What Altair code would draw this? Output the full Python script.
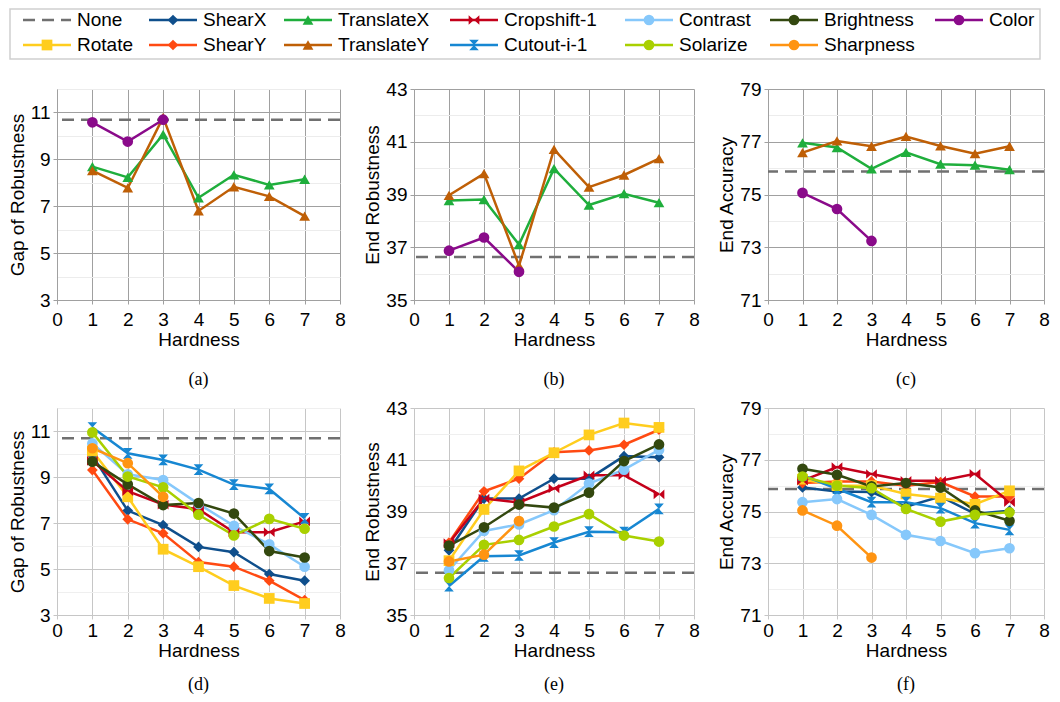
import altair as alt
import pandas as pd

# ---------------- data ----------------
HARDNESS = [1, 2, 3, 4, 5, 6, 7]

SERIES = ["None", "ShearX", "TranslateX", "Cropshift-1", "Contrast", "Brightness", "Color",
          "Rotate", "ShearY", "TranslateY", "Cutout-i-1", "Solarize", "Sharpness"]

# panel (a) Gap of Robustness
a_translatex = [8.69, 8.23, 10.06, 7.36, 8.34, 7.91, 8.15]
a_translatey = [8.52, 7.78, 10.79, 6.80, 7.83, 7.42, 6.58]
a_color = [10.58, 9.76, 10.69]
# panel (b) End Robustness
b_translatex = [38.77, 38.81, 37.10, 39.98, 38.60, 39.03, 38.69]
b_translatey = [38.97, 39.79, 36.30, 40.71, 39.28, 39.74, 40.36]
b_color = [36.87, 37.37, 36.07]
# panel (c) End Accuracy
c_translatex = [76.96, 76.78, 75.97, 76.60, 76.15, 76.11, 75.94]
c_translatey = [76.59, 77.03, 76.83, 77.20, 76.84, 76.55, 76.83]
c_color = [75.06, 74.45, 73.24]

# panel (d) Gap of Robustness
d_shearx = [9.93, 7.54, 6.91, 5.96, 5.73, 4.78, 4.49]
d_sheary = [9.30, 7.16, 6.55, 5.30, 5.10, 4.49, 3.65]
d_rotate = [10.13, 8.14, 5.86, 5.10, 4.28, 3.72, 3.50]
d_cropshift = [9.70, 8.38, 7.80, 7.60, 6.60, 6.60, 7.07]
d_cutout = [11.15, 10.03, 9.74, 9.32, 8.67, 8.48, 7.20]
d_contrast = [10.46, 9.12, 8.87, 7.83, 6.88, 6.07, 5.10]
d_brightness = [9.67, 8.68, 7.78, 7.87, 7.41, 5.78, 5.50]
d_solarize = [10.94, 9.02, 8.55, 7.36, 6.46, 7.18, 6.75]
d_sharpness = [10.25, 9.60, 8.14]
# panel (e) End Robustness
e_shearx = [37.50, 39.50, 39.50, 40.27, 40.27, 41.14, 41.10]
e_sheary = [37.80, 39.78, 40.27, 41.29, 41.36, 41.58, 42.16]
e_rotate = [37.10, 39.08, 40.57, 41.27, 41.96, 42.42, 42.25]
e_cropshift = [37.78, 39.50, 39.35, 39.89, 40.40, 40.40, 39.66]
e_cutout = [36.12, 37.27, 37.30, 37.80, 38.22, 38.20, 39.10]
e_contrast = [36.73, 38.25, 38.50, 39.05, 40.08, 40.62, 41.38]
e_brightness = [37.68, 38.39, 39.27, 39.15, 39.73, 40.95, 41.59]
e_solarize = [36.43, 37.71, 37.90, 38.42, 38.90, 38.07, 37.84]
e_sharpness = [37.07, 37.33, 38.63]
# panel (f) End Accuracy
f_shearx = [75.93, 75.77, 75.75, 75.19, 75.58, 74.91, 75.03]
f_sheary = [76.10, 76.16, 76.16, 76.00, 76.14, 75.58, 75.58]
f_rotate = [76.25, 76.00, 76.00, 75.68, 75.52, 75.28, 75.80]
f_cropshift = [76.19, 76.72, 76.45, 76.19, 76.19, 76.46, 75.36]
f_cutout = [76.40, 75.88, 75.36, 75.36, 75.13, 74.55, 74.29]
f_contrast = [75.36, 75.48, 74.87, 74.10, 73.86, 73.39, 73.58]
f_brightness = [76.65, 76.42, 75.97, 76.10, 75.93, 75.04, 74.64]
f_solarize = [76.35, 76.00, 75.90, 75.10, 74.61, 74.87, 74.97]
f_sharpness = [75.04, 74.45, 73.22]

# "None" baselines
none_gap = 10.69
none_rob = 36.63
none_acc = 75.87

# ---------------- styles ----------------
COLORS = ["#707070", "#0f4f8c", "#1fae3c", "#c4001a", "#86c8fb", "#33480f", "#8a0a8a",
          "#ffcd1e", "#ff4a12", "#bf5f06", "#1787d2", "#a9d000", "#ff9412"]
BOWTIE_H = "M-1,-0.9L0,0L-1,0.9ZM1,-0.9L0,0L1,0.9Z"
BOWTIE_V = "M-0.9,-1L0.9,-1L0,0ZM-0.9,1L0.9,1L0,0Z"
SHAPES = ["circle", "diamond", "triangle-up", BOWTIE_H, "circle", "circle", "circle",
          "square", "diamond", "triangle-up", BOWTIE_V, "circle", "circle"]
DASHES = [[12, 7]] + [[1, 0]] * 12
FONT = "Liberation Sans"

color_scale = alt.Scale(domain=SERIES, range=COLORS)
shape_scale = alt.Scale(domain=SERIES, range=SHAPES)


def long_df(pairs):
    rows = []
    for name, vals in pairs:
        for h, v in zip(HARDNESS, vals):
            rows.append({"s": name, "h": h, "v": v})
    return pd.DataFrame(rows)


def panel(pairs, none_val, ydom, ytitle, caption, w, h, major, minor, cap_offset, xpad):
    df = long_df(pairs)
    odd = "datum.value % 2 == 1"
    yaxis = alt.Axis(
        values=list(range(ydom[0], ydom[1] + 1)), title=ytitle,
        labelExpr=f"{odd} ? datum.label : ''",
        gridColor={"condition": {"test": odd, "value": major}, "value": minor},
        tickColor={"condition": {"test": odd, "value": major}, "value": "transparent"},
        domainColor=major, labelOverlap=False, labelFlush=False,
    )
    xaxis = alt.Axis(values=list(range(0, 9)), title="Hardness", gridColor=major,
                     tickColor=major, domainColor=major, labelFlush=False,
                     labelOverlap=False, titlePadding=1, labelPadding=xpad)
    x = alt.X("h:Q", scale=alt.Scale(domain=[0, 8], nice=False), axis=xaxis)
    y = alt.Y("v:Q", scale=alt.Scale(domain=ydom, nice=False, zero=False), axis=yaxis)
    base = alt.Chart(df)
    rule = alt.Chart(pd.DataFrame({"v": [none_val]})).mark_rule(
        strokeDash=[12, 7], color=COLORS[0], strokeWidth=2.5).encode(y=y)
    line = base.mark_line(strokeWidth=2.5).encode(
        x=x, y=y, color=alt.Color("s:N", scale=color_scale, legend=None),
        detail="s:N", order="h:Q")
    pts = base.mark_point(filled=True, opacity=1, size=115).encode(
        x=x, y=y, color=alt.Color("s:N", scale=color_scale, legend=None),
        shape=alt.Shape("s:N", scale=shape_scale, legend=None))
    return alt.layer(rule, line, pts).properties(
        width=w, height=h,
        title=alt.TitleParams(caption, orient="bottom", font="Liberation Serif",
                              fontSize=18, fontWeight="normal", offset=cap_offset,
                              color="black"))


TOP_MAJOR, TOP_MINOR = "#a0a0a0", "#ececec"
BOT_MAJOR, BOT_MINOR = "#c6c6c6", "#efefef"
W1, W2, W3 = 283, 280, 276

pa = panel([("TranslateX", a_translatex), ("TranslateY", a_translatey), ("Color", a_color)],
           none_gap, [3, 12], "Gap of Robustness", "(a)", W1, 211, TOP_MAJOR, TOP_MINOR, 22, 6)
pb = panel([("TranslateX", b_translatex), ("TranslateY", b_translatey), ("Color", b_color)],
           none_rob, [35, 43], "End Robustness", "(b)", W2, 211, TOP_MAJOR, TOP_MINOR, 22, 6)
pc = panel([("TranslateX", c_translatex), ("TranslateY", c_translatey), ("Color", c_color)],
           none_acc, [71, 79], "End Accuracy", "(c)", W3, 211, TOP_MAJOR, TOP_MINOR, 22, 6)

bottom_names = ["ShearX", "ShearY", "Rotate", "Cropshift-1", "Cutout-i-1", "Contrast",
                "Brightness", "Solarize", "Sharpness"]
pd_ = panel(list(zip(bottom_names, [d_shearx, d_sheary, d_rotate, d_cropshift, d_cutout,
                                    d_contrast, d_brightness, d_solarize, d_sharpness])),
            none_gap, [3, 12], "Gap of Robustness", "(d)", W1, 207, BOT_MAJOR, BOT_MINOR, 16, 2)
pe = panel(list(zip(bottom_names, [e_shearx, e_sheary, e_rotate, e_cropshift, e_cutout,
                                   e_contrast, e_brightness, e_solarize, e_sharpness])),
           none_rob, [35, 43], "End Robustness", "(e)", W2, 207, BOT_MAJOR, BOT_MINOR, 16, 2)
pf = panel(list(zip(bottom_names, [f_shearx, f_sheary, f_rotate, f_cropshift, f_cutout,
                                   f_contrast, f_brightness, f_solarize, f_sharpness])),
           none_acc, [71, 79], "End Accuracy", "(f)", W3, 207, BOT_MAJOR, BOT_MINOR, 16, 2)

# ---------------- legend (drawn as its own small chart) ----------------
LEG_W, LEG_H = 1030, 50
LEG_SHIFT = 47          # legend group origin sits on the first panel's plot origin
LEG_COL_X = [13, 139, 274, 440, 615, 760, 925]   # line start of each legend column
LEG_LINE = 48
LEG_ROWS = [0] * 7 + [1] * 6
LEG_COLS = list(range(7)) + list(range(6))
leg = pd.DataFrame({"s": SERIES, "row": LEG_ROWS, "col": LEG_COLS})
leg["x0"] = [LEG_COL_X[c] for c in leg["col"]]
leg["x1"] = leg["x0"] + LEG_LINE
leg["xm"] = leg["x0"] + LEG_LINE / 2
leg["xt"] = leg["x1"] + 6

lx = alt.Scale(domain=[0, LEG_W], range=[-LEG_SHIFT, LEG_W - LEG_SHIFT])
ly = alt.Scale(domain=[0, 1], range=[11, 36])
box = alt.Chart(pd.DataFrame({"k": [0]})).mark_rect(
    fill="white", stroke="#cfcfcf", strokeWidth=1.5).encode(
    x=alt.value(-LEG_SHIFT), x2=alt.value(LEG_W - LEG_SHIFT),
    y=alt.value(0), y2=alt.value(LEG_H))
leg_lines = alt.Chart(leg).mark_rule(strokeWidth=2.5).encode(
    x=alt.X("x0:Q", scale=lx, axis=None), x2="x1:Q",
    y=alt.Y("row:Q", scale=ly, axis=None),
    color=alt.Color("s:N", scale=color_scale, legend=None),
    strokeDash=alt.StrokeDash("s:N", scale=alt.Scale(domain=SERIES, range=DASHES), legend=None))
leg_pts = alt.Chart(leg).transform_filter("datum.s != 'None'").mark_point(
    filled=True, opacity=1, size=115).encode(
    x=alt.X("xm:Q", scale=lx, axis=None), y=alt.Y("row:Q", scale=ly, axis=None),
    color=alt.Color("s:N", scale=color_scale, legend=None),
    shape=alt.Shape("s:N", scale=shape_scale, legend=None))
leg_txt = alt.Chart(leg).mark_text(align="left", baseline="middle", fontSize=19,
                                   font=FONT, color="black").encode(
    x=alt.X("xt:Q", scale=lx, axis=None), y=alt.Y("row:Q", scale=ly, axis=None),
    text="s:N")
legend = alt.layer(box, leg_lines, leg_pts, leg_txt).properties(
    width=LEG_W - LEG_SHIFT, height=LEG_H)

top = alt.hconcat(pa, pb, pc, spacing=17)
bot = alt.hconcat(pd_, pe, pf, spacing=17)
rows = alt.vconcat(top, bot, spacing=10)

chart = alt.vconcat(legend, rows, spacing=20).properties(
    padding={"left": 0, "top": 0, "right": 0, "bottom": 0}
).configure_view(stroke=None).configure_axis(
    labelFont=FONT, titleFont=FONT, labelFontSize=19, titleFontSize=19,
    titleFontWeight="normal", labelColor="black", titleColor="black",
    tickSize=4, labelPadding=3, titlePadding=3
)

chart.save("out.html", embed_options={"renderer": "svg", "actions": False})
